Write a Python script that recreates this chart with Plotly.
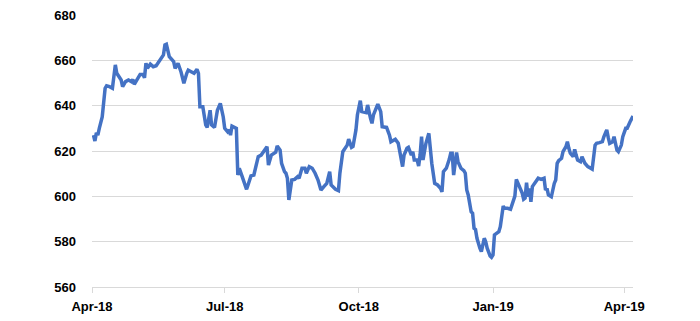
import plotly.graph_objects as go

dates = [
    "2018-04-02", "2018-04-03", "2018-04-04", "2018-04-05", "2018-04-06", "2018-04-08",
    "2018-04-10", "2018-04-11", "2018-04-13", "2018-04-15", "2018-04-17", "2018-04-18",
    "2018-04-21", "2018-04-22", "2018-04-24", "2018-04-26", "2018-04-28", "2018-04-29",
    "2018-04-30", "2018-05-02", "2018-05-04", "2018-05-06", "2018-05-07", "2018-05-08",
    "2018-05-09", "2018-05-11", "2018-05-13", "2018-05-15", "2018-05-17", "2018-05-20",
    "2018-05-21", "2018-05-22", "2018-05-24", "2018-05-27", "2018-05-28", "2018-05-30",
    "2018-06-01", "2018-06-03", "2018-06-05", "2018-06-06", "2018-06-08", "2018-06-10",
    "2018-06-12", "2018-06-13", "2018-06-14", "2018-06-16", "2018-06-18", "2018-06-19",
    "2018-06-21", "2018-06-22", "2018-06-24", "2018-06-26", "2018-06-28", "2018-06-30",
    "2018-07-01", "2018-07-03", "2018-07-04", "2018-07-05", "2018-07-06", "2018-07-08",
    "2018-07-09", "2018-07-10", "2018-07-11", "2018-07-13", "2018-07-15", "2018-07-16",
    "2018-07-17", "2018-07-19", "2018-07-21", "2018-07-24", "2018-07-26", "2018-07-28",
    "2018-07-30", "2018-07-31", "2018-08-02", "2018-08-05", "2018-08-06", "2018-08-08",
    "2018-08-09", "2018-08-11", "2018-08-12", "2018-08-13", "2018-08-14", "2018-08-16",
    "2018-08-18", "2018-08-20", "2018-08-21", "2018-08-23", "2018-08-25", "2018-08-26",
    "2018-08-28", "2018-08-30", "2018-09-01", "2018-09-03", "2018-09-05", "2018-09-07",
    "2018-09-09", "2018-09-11", "2018-09-12", "2018-09-15", "2018-09-17", "2018-09-18",
    "2018-09-20", "2018-09-23", "2018-09-24", "2018-09-26", "2018-09-27", "2018-09-29",
    "2018-09-30", "2018-10-02", "2018-10-03", "2018-10-06", "2018-10-07", "2018-10-09",
    "2018-10-10", "2018-10-11", "2018-10-14", "2018-10-16", "2018-10-17", "2018-10-20",
    "2018-10-22", "2018-10-23", "2018-10-25", "2018-10-26", "2018-10-28", "2018-10-29",
    "2018-10-30", "2018-10-31", "2018-11-01", "2018-11-03", "2018-11-04", "2018-11-06",
    "2018-11-07", "2018-11-08", "2018-11-10", "2018-11-11", "2018-11-12", "2018-11-13",
    "2018-11-14", "2018-11-16", "2018-11-18", "2018-11-19", "2018-11-20", "2018-11-22",
    "2018-11-24", "2018-11-26", "2018-11-27", "2018-11-28", "2018-11-29", "2018-11-30",
    "2018-12-02", "2018-12-03", "2018-12-04", "2018-12-05", "2018-12-07", "2018-12-08",
    "2018-12-10", "2018-12-12", "2018-12-13", "2018-12-14", "2018-12-15", "2018-12-16",
    "2018-12-17", "2018-12-18", "2018-12-19", "2018-12-20", "2018-12-21", "2018-12-23",
    "2018-12-24", "2018-12-26", "2018-12-27", "2018-12-28", "2018-12-30", "2018-12-31",
    "2019-01-01", "2019-01-02", "2019-01-04", "2019-01-05", "2019-01-06", "2019-01-08",
    "2019-01-09", "2019-01-11", "2019-01-13", "2019-01-15", "2019-01-16", "2019-01-17",
    "2019-01-19", "2019-01-21", "2019-01-22", "2019-01-23", "2019-01-24", "2019-01-25",
    "2019-01-26", "2019-01-27", "2019-01-28", "2019-01-30", "2019-02-01", "2019-02-03",
    "2019-02-05", "2019-02-06", "2019-02-07", "2019-02-08", "2019-02-10", "2019-02-12",
    "2019-02-13", "2019-02-14", "2019-02-15", "2019-02-17", "2019-02-18", "2019-02-20",
    "2019-02-21", "2019-02-22", "2019-02-23", "2019-02-25", "2019-02-26", "2019-02-27",
    "2019-02-28", "2019-03-02", "2019-03-03", "2019-03-05", "2019-03-07", "2019-03-09",
    "2019-03-10", "2019-03-12", "2019-03-13", "2019-03-15", "2019-03-17", "2019-03-18",
    "2019-03-20", "2019-03-21", "2019-03-22", "2019-03-24", "2019-03-25", "2019-03-27",
    "2019-03-28", "2019-03-30", "2019-03-31", "2019-04-02", "2019-04-03", "2019-04-05",
    "2019-04-06", "2019-04-07",
]

values = [
    627.0, 624.4, 628.0, 627.0, 630.0, 635.0,
    647.7, 648.8, 648.4, 647.7, 658.0, 654.3,
    651.3, 648.4, 650.6, 651.3, 650.6, 651.6,
    649.4, 651.3, 653.8, 653.8, 652.3, 658.7,
    656.5, 658.3, 657.2, 657.6, 659.4, 662.4,
    666.8, 667.1, 661.6, 659.4, 656.5, 658.7,
    655.0, 649.9, 654.3, 655.7, 655.0, 654.3,
    656.0, 654.3, 639.5, 639.5, 631.5, 630.4,
    638.0, 631.5, 630.4, 638.0, 641.0, 635.0,
    630.0, 628.5, 629.3, 627.0, 631.0, 630.4,
    630.0, 609.4, 612.4, 608.7, 605.0, 603.1,
    605.0, 609.0, 609.4, 617.5, 618.2, 620.4,
    621.9, 613.8, 618.2, 619.5, 622.2, 620.4,
    614.6, 610.9, 610.2, 608.0, 598.4, 607.2,
    607.5, 608.7, 608.0, 612.4, 612.4, 610.2,
    613.1, 612.4, 610.2, 607.2, 602.8, 604.3,
    605.7, 610.9, 605.0, 603.1, 602.5, 610.2,
    619.7, 622.6, 625.2, 621.6, 622.0, 629.3,
    635.9, 642.2, 637.4, 636.9, 640.3, 634.4,
    632.2, 635.9, 640.7, 637.4, 630.7, 630.4,
    627.0, 624.1, 624.9, 625.2, 623.4, 619.7,
    616.8, 613.1, 618.2, 621.2, 621.6, 618.2,
    619.7, 616.0, 616.0, 613.4, 618.2, 626.3,
    616.0, 623.4, 627.8, 619.0, 614.6, 605.7,
    605.0, 603.5, 602.0, 610.9, 611.9, 612.4,
    616.3, 619.0, 619.0, 609.4, 619.3, 615.3,
    612.4, 611.3, 610.2, 602.8, 600.6, 597.6,
    593.2, 592.5, 585.9, 585.4, 581.5, 577.1,
    575.6, 581.5, 580.0, 577.1, 573.7, 573.1,
    574.1, 583.0, 584.0, 584.4, 586.6, 595.7,
    594.7, 594.7, 594.3, 598.4, 600.1, 607.5,
    604.3, 601.4, 598.7, 599.2, 606.0, 599.8,
    603.5, 597.6, 604.3, 606.5, 608.0, 607.5,
    608.0, 602.8, 603.5, 600.6, 599.8, 605.7,
    607.2, 614.6, 615.7, 616.8, 619.7, 621.9,
    624.1, 621.2, 619.0, 617.5, 620.7, 618.2,
    616.0, 615.3, 617.5, 614.6, 613.1, 612.4,
    612.0, 622.6, 623.4, 623.7, 624.1, 626.3,
    629.3, 626.0, 623.4, 624.1, 626.3, 620.4,
    619.7, 622.6, 626.3, 630.0, 630.0, 632.9,
    634.4, 635.4,
]

x_range = ["2018-04-01", "2019-04-07"]
y_range = [560, 680]

fig = go.Figure()
fig.add_trace(go.Scatter(
    x=dates, y=values, mode="lines",
    line=dict(color="#4472C4", width=3.5),
    hoverinfo="skip",
))

tick_font = dict(family="Liberation Sans, Arial, sans-serif", size=13,
                 color="#000000", weight="bold")

fig.update_layout(
    width=700, height=321,
    margin=dict(l=92, r=67, t=15, b=34, autoexpand=False),
    paper_bgcolor="white", plot_bgcolor="white",
    showlegend=False,
)
fig.update_xaxes(
    type="date", range=x_range, automargin=False,
    tick0="2018-04-01", dtick="M3", tickformat="%b-%y",
    showgrid=False, showline=True, linecolor="#d9d9d9", linewidth=1,
    ticks="outside", ticklen=5, tickcolor="#d9d9d9",
    ticklabelstandoff=2,
    tickfont=tick_font,
    zeroline=False,
)
fig.update_yaxes(
    range=y_range, dtick=20, tick0=560, automargin=False,
    showgrid=True, gridcolor="#d9d9d9", gridwidth=1,
    showline=False, zeroline=False,
    ticks="", ticklabelstandoff=15,
    tickfont=tick_font,
)

fig.write_html("out.html")
